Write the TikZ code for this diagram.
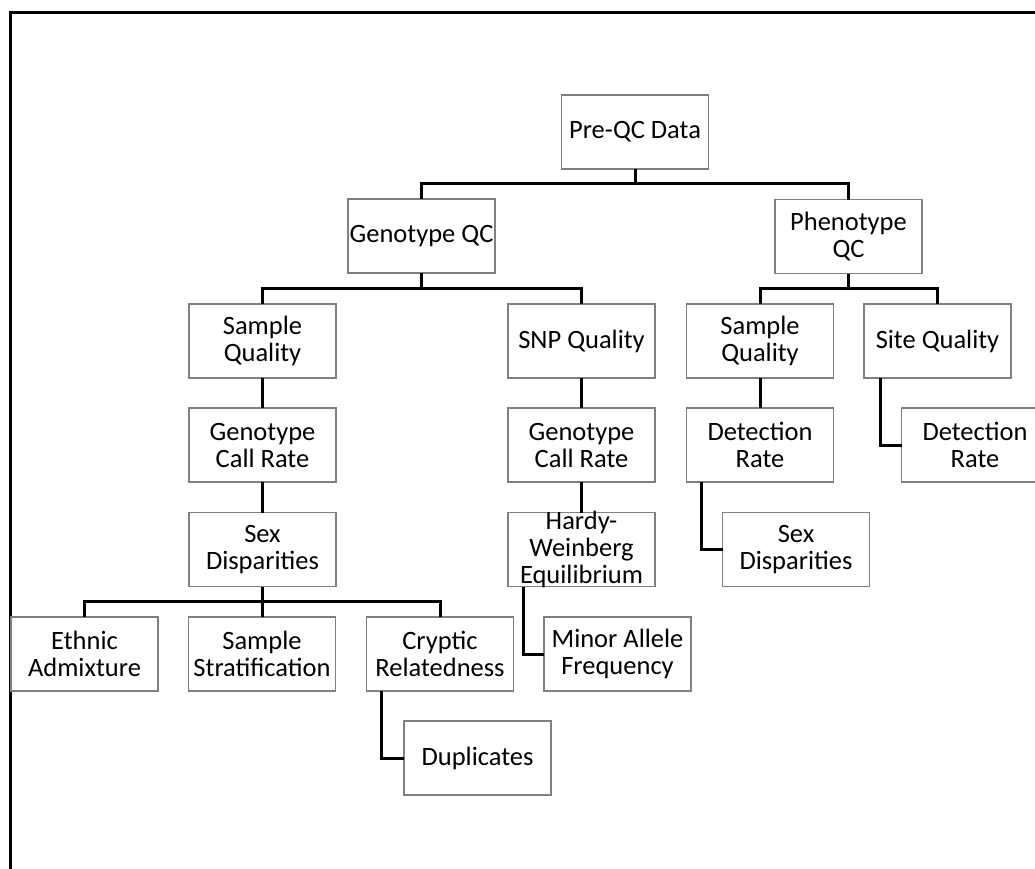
\documentclass[tikz,border=0pt]{standalone}
\usepackage{fontspec}
\setmainfont{Carlito}
\begin{document}
\begin{tikzpicture}[x=1pt,y=-1pt,
  box/.style={draw=black!50, line width=1.2pt, fill=white, minimum width=147pt, minimum height=74pt, inner sep=0pt, outer sep=0pt},
  lbl/.style={font=\fontsize{26.5}{27}\selectfont, align=center, inner sep=0pt, text=black},
  conn/.style={line width=3pt, black},
  frame/.style={line width=2.2pt, black}]
\useasboundingbox (0,0) rectangle (1035,869);
\clip (0,0) rectangle (1035,869);
\draw[frame] (10.5,880) |- (1045,12.5);
% boxes
\node[box] (pq) at (635,132) {};
\node[box] (gq) at (421.5,236) {};
\node[box] (pc) at (848.5,236.5) {};
\node[box] (gsq) at (262.5,341) {};
\node[box] (snp) at (581.5,341) {};
\node[box] (psq) at (760,341) {};
\node[box] (site) at (937.5,341) {};
\node[box] (gcr) at (262.5,445) {};
\node[box] (scr) at (581.5,445) {};
\node[box] (pdr) at (760,445) {};
\node[box] (sdr) at (975,445) {};
\node[box] (gsd) at (262.5,549.5) {};
\node[box] (hw) at (581.5,549.5) {};
\node[box] (psd) at (796,549.5) {};
\node[box] (eth) at (84.5,654) {};
\node[box] (strat) at (262,654) {};
\node[box] (cryp) at (440,654) {};
\node[box] (maf) at (617.5,654) {};
\node[box] (dup) at (477.5,758) {};
% connectors
\draw[conn] (pq.south) -- ++(0,15) -| (gq.north);
\draw[conn] (pq.south) -- ++(0,15) -| (pc.north);
\draw[conn] (gq.south) -- ++(0,15) -| (gsq.north);
\draw[conn] (gq.south) -- ++(0,15) -| (snp.north);
\draw[conn] (pc.south) -- ++(0,15) -| (psq.north);
\draw[conn] (pc.south) -- ++(0,15) -| (site.north);
\draw[conn] (gsq.south) -- (gcr.north);
\draw[conn] (gcr.south) -- (gsd.north);
\draw[conn] (snp.south) -- (scr.north);
\draw[conn] (scr.south) -- (hw.north);
\draw[conn] (psq.south) -- (pdr.north);
\draw[conn] (gsd.south) -- ++(0,15) -| (eth.north);
\draw[conn] (gsd.south) -- ++(0,15) -| (strat.north);
\draw[conn] (gsd.south) -- ++(0,15) -| (cryp.north);
\draw[conn] ([xshift=16pt]site.south west) |- (sdr.west);
\draw[conn] ([xshift=15pt]pdr.south west) |- (psd.west);
\draw[conn] ([xshift=15pt]hw.south west) |- (maf.west);
\draw[conn] ([xshift=15pt]cryp.south west) |- (dup.west);
% labels
\node[lbl] at (pq) {Pre-QC Data};
\node[lbl] at (gq) {Genotype QC};
\node[lbl] at (pc) {Phenotype\\QC};
\node[lbl] at (gsq) {Sample\\Quality};
\node[lbl] at (snp) {SNP Quality};
\node[lbl] at (psq) {Sample\\Quality};
\node[lbl] at (site) {Site Quality};
\node[lbl] at (gcr) {Genotype\\Call Rate};
\node[lbl] at (scr) {Genotype\\Call Rate};
\node[lbl] at (pdr) {Detection\\Rate};
\node[lbl] at (sdr) {Detection\\Rate};
\node[lbl] at (gsd) {Sex\\Disparities};
\node[lbl] at (hw) {Hardy-\\Weinberg\\Equilibrium};
\node[lbl] at (psd) {Sex\\Disparities};
\node[lbl] at (eth) {Ethnic\\Admixture};
\node[lbl] at (strat) {Sample\\Stratification};
\node[lbl] at (cryp) {Cryptic\\Relatedness};
\node[lbl] at (maf) {Minor Allele\\Frequency};
\node[lbl] at (dup) {Duplicates};
\end{tikzpicture}
\end{document}
